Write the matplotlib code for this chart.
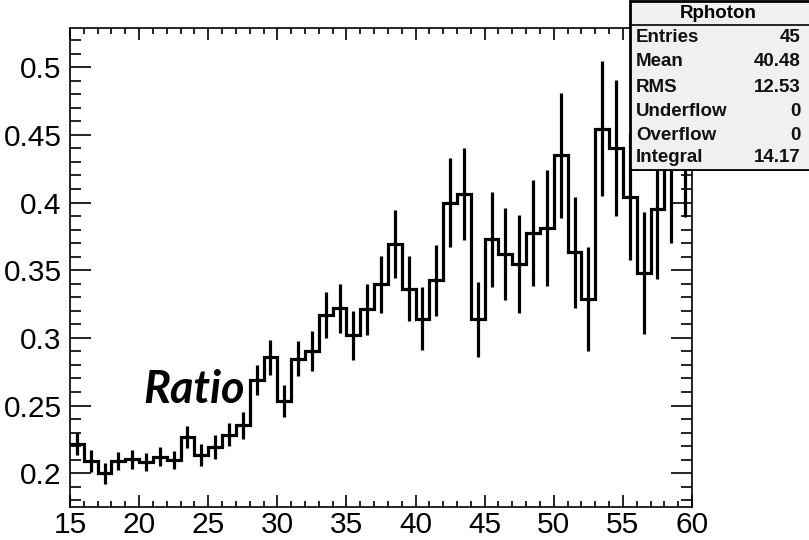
import numpy as np
import matplotlib
matplotlib.use("Agg")
import matplotlib.pyplot as plt
from matplotlib.patches import Rectangle

# bin edges 15..60, 45 bins of width 1
bin_lo = 15
bin_hi = 60
ratio = [0.2214, 0.2089, 0.1998, 0.2090, 0.2103, 0.2082, 0.2120, 0.2096, 0.2266, 0.2136,
         0.2195, 0.2285, 0.2355, 0.2690, 0.2855, 0.2534, 0.2847, 0.2903, 0.3167, 0.3217,
         0.3020, 0.3210, 0.3397, 0.3692, 0.3362, 0.3143, 0.3424, 0.4000, 0.4060, 0.3136,
         0.3727, 0.3623, 0.3545, 0.3776, 0.3812, 0.4348, 0.3631, 0.3286, 0.4547, 0.4404,
         0.4042, 0.3480, 0.3956, 0.4350, 0.4450]
ratio_err = [0.008, 0.008, 0.008, 0.007, 0.007, 0.0065, 0.007, 0.0065, 0.008, 0.008,
             0.009, 0.0086, 0.010, 0.011, 0.013, 0.012, 0.013, 0.015, 0.017, 0.018,
             0.018, 0.019, 0.021, 0.025, 0.024, 0.023, 0.026, 0.0326, 0.034, 0.028,
             0.035, 0.034, 0.036, 0.039, 0.043, 0.046, 0.041, 0.0385, 0.050, 0.050,
             0.047, 0.045, 0.052, 0.065, 0.056]

stat_names = ["Entries", "Mean", "RMS", "Underflow", "Overflow", "Integral"]
stat_vals = ["45", "40.48", "12.53", "0", "0", "14.17"]

edges = np.arange(bin_lo, bin_hi + 1)
centers = edges[:-1] + 0.5

fig = plt.figure(figsize=(8.09, 5.40), dpi=100)
ax = fig.add_axes([70 / 809, 1 - 507 / 540, 622 / 809, 479 / 540])

ax.stairs(ratio, edges, baseline=None, color="black", linewidth=2.3)
ax.errorbar(centers, ratio, yerr=ratio_err, fmt="none", ecolor="black", elinewidth=2.3, capsize=0)

ax.set_xlim(bin_lo, bin_hi)
ax.set_ylim(0.175, 0.529)
ax.set_xticks(np.arange(15, 61, 5))
ax.set_xticks(np.arange(15, 61, 1), minor=True)
ax.set_yticks([0.2, 0.25, 0.3, 0.35, 0.4, 0.45, 0.5])
ax.set_yticklabels(["0.2", "0.25", "0.3", "0.35", "0.4", "0.45", "0.5"])
ax.set_yticks(np.arange(0.18, 0.53, 0.01), minor=True)

ax.tick_params(which="both", direction="in", top=True, right=True, labelsize=21.5, width=1.2)
ax.tick_params(axis="x", which="major", length=8.5, pad=3)
ax.tick_params(axis="x", which="minor", length=4.5)
ax.tick_params(axis="y", which="major", length=15, pad=6)
ax.tick_params(axis="y", which="minor", length=8)
for lab in ax.get_xticklabels() + ax.get_yticklabels():
    lab.set_family("Liberation Sans")
for sp in ax.spines.values():
    sp.set_linewidth(1.2)

ax.text(23.95, 0.2517, "Ratio", fontsize=32.5, fontweight="bold", fontstyle="italic",
        family=["Lato", "DejaVu Sans"], ha="center", va="baseline")

# stats box
box = fig.add_axes([629 / 809, 1 - 171 / 540, 1 - 629 / 809, 171 / 540])
box.set_xlim(629, 809)
box.set_ylim(171, 0)
box.axis("off")
box.add_patch(Rectangle((630, 1), 182, 169, facecolor="#f0f0f0", edgecolor="black", linewidth=2))
box.plot([630, 809], [25, 25], color="black", linewidth=1.2)
box.text(718, 13, "Rphoton", ha="center", va="center", fontsize=13.5, fontweight="bold",
         family="Liberation Sans")
row_y = [38, 62, 87, 111, 135, 158]
for name, val, yy in zip(stat_names, stat_vals, row_y):
    box.text(636, yy, name, ha="left", va="center", fontsize=13.5, fontweight="bold",
             family="Liberation Sans", color="#111111")
    box.text(801, yy, val, ha="right", va="center", fontsize=13.5, fontweight="bold",
             family="Liberation Sans", color="#111111")

fig.savefig("out.png", dpi=100)
